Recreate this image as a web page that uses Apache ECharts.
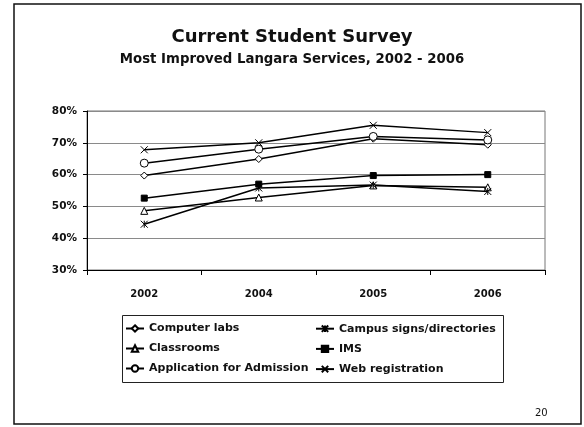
<!DOCTYPE html>
<html><head><meta charset="utf-8">
<script src="https://cdn.jsdelivr.net/npm/echarts@6/dist/echarts.min.js"></script>
<style>html,body{margin:0;padding:0;background:#fff}#c{width:584px;height:427px}</style>
</head><body><div id="c"></div>
<script>
const years = ['2002', '2004', '2005', '2006'];
const computerLabs = [59.7, 64.9, 71.3, 69.4];
const classrooms = [48.6, 52.8, 56.6, 56.0];
const applicationAdmission = [63.6, 68.0, 72.0, 70.9];
const campusSigns = [44.4, 55.8, 56.7, 54.7];
const ims = [52.6, 57.0, 59.7, 60.0];
const webRegistration = [67.8, 70.0, 75.5, 73.2];
const yTicks = [30, 40, 50, 60, 70, 80];

const FONT = 'DejaVu Sans';
const STAR = 'path://M0,0L10,10M10,0L0,10M5,0L5,10';
const CROSS = 'path://M0,0L10,10M10,0L0,10';

function mk(name, data, symbol, size, fill) {
  return {
    name, type: 'line', data, symbol, symbolSize: size,
    lineStyle: { color: '#000', width: 1.5 },
    itemStyle: { color: fill, borderColor: '#000', borderWidth: 1 },
    emphasis: { disabled: true },
    animation: false, z: 3
  };
}

const chart = echarts.init(document.getElementById('c'), null, { renderer: 'canvas' });
const legendText = { fontFamily: FONT, fontWeight: 'bold', fontSize: 11, color: '#111' };
chart.setOption({
  backgroundColor: '#fff',
  animation: false,
  title: [
    { text: 'Current Student Survey', left: 'center', top: 23,
      textStyle: { fontFamily: FONT, fontWeight: 'bold', fontSize: 18, color: '#111' } },
    { text: 'Most Improved Langara Services, 2002 - 2006', left: 'center', top: 48,
      textStyle: { fontFamily: FONT, fontWeight: 'bold', fontSize: 13.3, color: '#111' } },
    { text: '20', left: 530, top: 403,
      textStyle: { fontFamily: FONT, fontWeight: 'normal', fontSize: 10, color: '#111' } }
  ],
  grid: { left: 87, right: 39, top: 111, bottom: 157, show: true, borderColor: '#777', borderWidth: 1 },
  xAxis: {
    type: 'category', data: years, boundaryGap: true,
    axisLine: { lineStyle: { color: '#000', width: 1 } },
    axisTick: { show: true, length: 5, inside: false, lineStyle: { color: '#000' } },
    axisLabel: { margin: 19, fontFamily: FONT, fontWeight: 'bold', fontSize: 10, color: '#111' }
  },
  yAxis: {
    type: 'value', min: yTicks[0], max: yTicks[yTicks.length - 1], interval: 10,
    axisLine: { show: true, lineStyle: { color: '#000', width: 1 } },
    axisTick: { show: true, length: 4, lineStyle: { color: '#000' } },
    axisLabel: { formatter: '{value}%', margin: 10, fontFamily: FONT, fontWeight: 'bold', fontSize: 10.5, color: '#111' },
    splitLine: { lineStyle: { color: '#8a8a8a', width: 1 } }
  },
  legend: [
    { data: ['Computer labs', 'Classrooms', 'Application for Admission'],
      orient: 'vertical', left: 120, top: 318, itemGap: 9, itemWidth: 18, itemHeight: 8,
      textStyle: legendText, selectedMode: false },
    { data: ['Campus signs/directories', 'IMS', 'Web registration'],
      orient: 'vertical', left: 310, top: 318, itemGap: 9, itemWidth: 18, itemHeight: 8,
      textStyle: legendText, selectedMode: false }
  ],
  graphic: [
    { type: 'rect', shape: { x: 14, y: 4, width: 567, height: 420 },
      style: { fill: 'none', stroke: '#111', lineWidth: 1.5 }, silent: true },
    { type: 'rect', shape: { x: 122.5, y: 315.5, width: 381, height: 67 },
      style: { fill: 'none', stroke: '#222', lineWidth: 1 }, silent: true }
  ],
  series: [
    mk('Computer labs', computerLabs, 'diamond', 7, '#fff'),
    mk('Classrooms', classrooms, 'triangle', 7, '#fff'),
    mk('Application for Admission', applicationAdmission, 'circle', 8, '#fff'),
    mk('Campus signs/directories', campusSigns, STAR, 7, 'none'),
    mk('IMS', ims, 'rect', 6, '#000'),
    mk('Web registration', webRegistration, CROSS, 7, 'none')
  ]
});
</script></body></html>
